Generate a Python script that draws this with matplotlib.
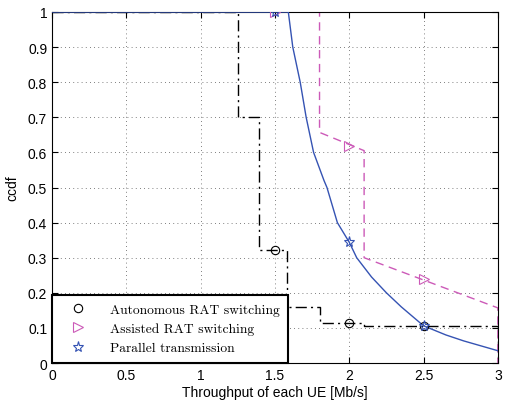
import numpy as np
import matplotlib
matplotlib.use('Agg')
import matplotlib.pyplot as plt
from matplotlib.lines import Line2D

# autonomous RAT switching (dash-dot, black)
auto_x = [0, 1.25, 1.25, 1.39, 1.39, 1.58, 1.58, 1.80, 1.80, 2.10, 2.10, 3.0, 3.0]
auto_y = [1, 1, 0.70, 0.70, 0.323, 0.323, 0.161, 0.161, 0.113, 0.113, 0.106, 0.106, 0]
auto_mx = [1.5, 2.0, 2.5]
auto_my = [0.323, 0.113, 0.106]

# assisted RAT switching (dashed, magenta)
assist_x = [0, 1.80, 1.80, 2.10, 2.10, 3.0, 3.0]
assist_y = [1, 1, 0.657, 0.605, 0.30, 0.157, 0]
assist_mx = [1.5, 2.0, 2.5]
assist_my = [1.0, 0.619, 0.239]

# parallel transmission (solid, blue)
par_x = [0, 1.59, 1.62, 1.67, 1.71, 1.76, 1.83, 1.85, 1.92, 2.0, 2.05, 2.15, 2.25,
         2.35, 2.5, 2.65, 2.77, 3.0]
par_y = [1, 1, 0.9, 0.8, 0.7, 0.6, 0.52, 0.5, 0.4, 0.344, 0.3, 0.245, 0.2,
         0.16, 0.106, 0.08, 0.063, 0.035]
par_mx = [1.5, 2.0, 2.5]
par_my = [1.0, 0.344, 0.106]

labels = ['Autonomous RAT switching', 'Assisted RAT switching', 'Parallel transmission']
xticks = [0, 0.5, 1, 1.5, 2, 2.5, 3]
yticks = [0, 0.1, 0.2, 0.3, 0.4, 0.5, 0.6, 0.7, 0.8, 0.9, 1]

c_auto = 'black'
c_assist = '#cc5ab8'
c_par = '#3553b3'

plt.rcParams['font.family'] = ['Liberation Sans', 'DejaVu Sans']

fig = plt.figure(figsize=(5.07, 4.06), dpi=100)
ax = fig.add_axes([0.1026, 0.1034, 0.8794, 0.8646])

ax.plot(auto_x, auto_y, color=c_auto, ls=(0, (8, 3, 1.5, 3)), lw=1.0, zorder=2)
ax.plot(assist_x, assist_y, color=c_assist, ls=(0, (6, 4)), lw=1.0, zorder=2)
ax.plot(par_x, par_y, color=c_par, ls='-', lw=1.0, zorder=3)

ax.plot(auto_mx, auto_my, ls='none', marker='o', ms=6, mfc='none', mec=c_auto, mew=0.8, zorder=4)
ax.plot(assist_mx, assist_my, ls='none', marker='>', ms=7, mfc='none', mec=c_assist, mew=0.8, zorder=4)
ax.plot(par_mx, par_my, ls='none', marker='*', ms=8, mfc='none', mec=c_par, mew=0.8, zorder=5)

ax.set_xlim(0, 3)
ax.set_ylim(0, 1)
ax.set_xticks(xticks)
ax.set_xticklabels(['0', '0.5', '1', '1.5', '2', '2.5', '3'])
ax.set_yticks(yticks)
ax.set_yticklabels(['0', '0.1', '0.2', '0.3', '0.4', '0.5', '0.6', '0.7', '0.8', '0.9', '1'])
ax.tick_params(direction='in', top=True, right=True, labelsize=10, length=4)
ax.grid(True, color='#555555', ls=(0, (1, 4)), lw=0.6)
for s in ax.spines.values():
    s.set_linewidth(0.8)

ax.set_xlabel('Throughput of each UE [Mb/s]', fontsize=10, labelpad=2)
ax.set_ylabel('ccdf', fontsize=10, labelpad=6)

handles = [
    Line2D([], [], ls='none', marker='o', ms=6, mfc='none', mec=c_auto, mew=0.8),
    Line2D([], [], ls='none', marker='>', ms=7, mfc='none', mec=c_assist, mew=0.8),
    Line2D([], [], ls='none', marker='*', ms=8, mfc='none', mec=c_par, mew=0.8),
]
leg = ax.legend(handles, labels, loc='lower left', bbox_to_anchor=(0, 0),
                fancybox=False, framealpha=1, edgecolor='black', borderaxespad=0,
                prop={'family': ['cmr10', 'DejaVu Serif'], 'size': 9.7},
                handletextpad=1.05, borderpad=0.65, labelspacing=0.5, handlelength=2.6)
leg.get_frame().set_linewidth(1.5)
leg.set_zorder(10)

fig.savefig('out.png', dpi=100)
